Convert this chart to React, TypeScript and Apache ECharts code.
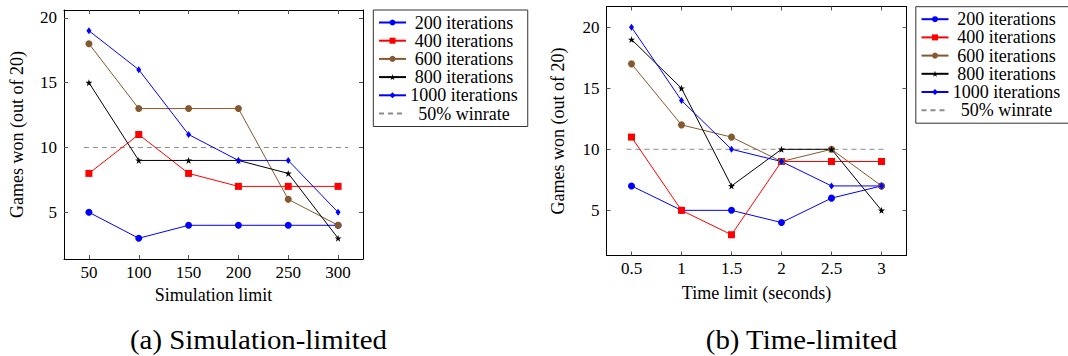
import React, { useEffect, useRef } from 'react';
import * as echarts from 'echarts';

// ---------- data ----------
const simLimits = [50, 100, 150, 200, 250, 300];
const timeLimits = [0.5, 1, 1.5, 2, 2.5, 3];
const seriesNames = ['200 iterations', '400 iterations', '600 iterations', '800 iterations', '1000 iterations'];
const refName = '50% winrate';

const sim200 = [5, 3, 4, 4, 4, 4];
const sim400 = [8, 11, 8, 7, 7, 7];
const sim600 = [18, 13, 13, 13, 6, 4];
const sim800 = [15, 9, 9, 9, 8, 3];
const sim1000 = [19, 16, 11, 9, 9, 5];

const time200 = [7, 5, 5, 4, 6, 7];
const time400 = [11, 5, 3, 9, 9, 9];
const time600 = [17, 12, 11, 9, 10, 7];
const time800 = [19, 15, 7, 10, 10, 5];
const time1000 = [20, 14, 10, 9, 7, 7];

const winrate = 10;
const simRefX = [45, 310];
const timeRefX = [0.45, 3.05];

const yTicks = [5, 10, 15, 20];
const simXRange = [25, 325];
const simYRange = [1.4, 20.6];
const timeXRange = [0.25, 3.25];
const timeYRange = [1.3, 21.7];

const simTitle = 'Simulation limit';
const timeTitle = 'Time limit (seconds)';
const yTitle = 'Games won (out of 20)';
const captionA = '(a) Simulation-limited';
const captionB = '(b) Time-limited';

// ---------- styles ----------
const FONT = 'Liberation Serif, serif';
const STAR =
  'path://M0,-10L2.245,-3.09L9.51,-3.09L3.633,1.18L5.88,8.09L0,3.82L-5.88,8.09L-3.633,1.18L-9.51,-3.09L-2.245,-3.09Z';
const markStyles: any[] = [
  { color: '#0000ff', symbol: 'circle', size: 7 },
  { color: '#ff0000', symbol: 'rect', size: 7 },
  { color: '#85582f', symbol: 'circle', size: 7 },
  { color: '#000000', symbol: STAR, size: 7 },
  { color: '#0000ff', symbol: 'diamond', size: [5, 7] },
];

function lineSeries(name: string, xs: number[], ys: number[], st: any, g: number) {
  return {
    type: 'line',
    name,
    xAxisIndex: g * 2,
    yAxisIndex: g * 2,
    data: xs.map((x, i) => [x, ys[i]]),
    symbol: st.symbol,
    symbolSize: st.size,
    showSymbol: true,
    lineStyle: { color: st.color, width: 1 },
    itemStyle: { color: st.color },
    emphasis: { disabled: true },
    silent: true,
  };
}

function refSeries(xs: number[], g: number) {
  return {
    type: 'line',
    name: refName,
    xAxisIndex: g * 2,
    yAxisIndex: g * 2,
    data: xs.map((x) => [x, winrate]),
    symbol: 'none',
    lineStyle: { color: '#8c8c8c', width: 1, type: [5, 4] },
    itemStyle: { color: '#8c8c8c' },
    emphasis: { disabled: true },
    silent: true,
    z: 1,
  };
}

function xAxes(g: number, range: number[], ticks: number[], name: string, nameGap: number, margin: number) {
  const common = {
    type: 'value',
    gridIndex: g,
    min: range[0],
    max: range[1],
    splitLine: { show: false },
    axisLine: { show: true, onZero: false, lineStyle: { color: '#000', width: 1 } },
    axisTick: { show: true, inside: true, length: 4, customValues: ticks, lineStyle: { color: '#555', width: 1 } },
  };
  return [
    {
      ...common,
      position: 'bottom',
      name,
      nameLocation: 'middle',
      nameGap,
      nameTextStyle: { fontSize: 18, fontFamily: FONT, color: '#000' },
      axisLabel: { show: true, customValues: ticks, margin, fontSize: 17, fontFamily: FONT, color: '#000' },
    },
    { ...common, position: 'top', axisLabel: { show: false } },
  ];
}

function yAxes(g: number, range: number[], nameGap: number) {
  const common = {
    type: 'value',
    gridIndex: g,
    min: range[0],
    max: range[1],
    splitLine: { show: false },
    axisLine: { show: true, onZero: false, lineStyle: { color: '#000', width: 1 } },
    axisTick: { show: true, inside: true, length: 4, customValues: yTicks, lineStyle: { color: '#555', width: 1 } },
  };
  return [
    {
      ...common,
      position: 'left',
      name: yTitle,
      nameLocation: 'middle',
      nameGap,
      nameTextStyle: { fontSize: 18, fontFamily: FONT, color: '#000' },
      axisLabel: { show: true, customValues: yTicks, margin: 7, fontSize: 17, fontFamily: FONT, color: '#000' },
    },
    { ...common, position: 'right', axisLabel: { show: false } },
  ];
}

function legend(left: number, top: number) {
  return {
    orient: 'vertical',
    left,
    top,
    selectedMode: false,
    data: [...seriesNames, { name: refName, itemStyle: { opacity: 0 } }],
    itemWidth: 27,
    itemHeight: 7.5,
    itemGap: 0.2,
    padding: [3.5, 10, 4, 4.7],
    borderColor: '#333',
    borderWidth: 1,
    backgroundColor: '#fff',
    formatter: (n: string) => `{t|${n}}`,
    textStyle: {
      fontFamily: FONT,
      fontSize: 18,
      rich: { t: { width: 106, align: 'center', fontSize: 18, fontFamily: FONT, color: '#000', lineHeight: 21 } },
    },
  };
}

export default function App() {
  const ref = useRef<HTMLDivElement>(null);

  useEffect(() => {
    if (!ref.current) return;
    const chart = echarts.init(ref.current, null, { renderer: 'svg' });
    const simData = [sim200, sim400, sim600, sim800, sim1000];
    const timeData = [time200, time400, time600, time800, time1000];

    const series: any[] = [];
    seriesNames.forEach((n, i) => series.push(lineSeries(n, simLimits, simData[i], markStyles[i], 0)));
    series.push(refSeries(simRefX, 0));
    seriesNames.forEach((n, i) => series.push(lineSeries(n, timeLimits, timeData[i], markStyles[i], 1)));
    series.push(refSeries(timeRefX, 1));

    chart.setOption({
      animation: false,
      backgroundColor: '#fff',
      textStyle: { fontFamily: FONT },
      grid: [
        { left: 64, top: 10, width: 299, height: 249, outerBoundsMode: 'none', containLabel: false },
        { left: 606.5, top: 6.5, width: 300, height: 249, outerBoundsMode: 'none', containLabel: false },
      ],
      xAxis: [
        ...xAxes(0, simXRange, simLimits, simTitle, 26, 5),
        ...xAxes(1, timeXRange, timeLimits, timeTitle, 28, 4),
      ],
      yAxis: [...yAxes(0, simYRange, 38), ...yAxes(1, timeYRange, 40)],
      legend: [legend(373.3, 10), legend(915.8, 6.7)],
      series,
      graphic: [
        {
          type: 'text',
          x: 258.5,
          y: 340,
          scaleX: 1.03,
          style: {
            text: captionA,
            fontSize: 28,
            fontFamily: FONT,
            fill: '#000',
            align: 'center',
            verticalAlign: 'middle',
          },
        },
        {
          type: 'text',
          x: 801.5,
          y: 340,
          scaleX: 1.03,
          style: {
            text: captionB,
            fontSize: 28,
            fontFamily: FONT,
            fill: '#000',
            align: 'center',
            verticalAlign: 'middle',
          },
        },
      ],
    });
    return () => chart.dispose();
  }, []);

  return (
    <div
      ref={ref}
      style={{ position: 'absolute', left: 0, top: 0, width: 1068, height: 356 }}
    />
  );
}
